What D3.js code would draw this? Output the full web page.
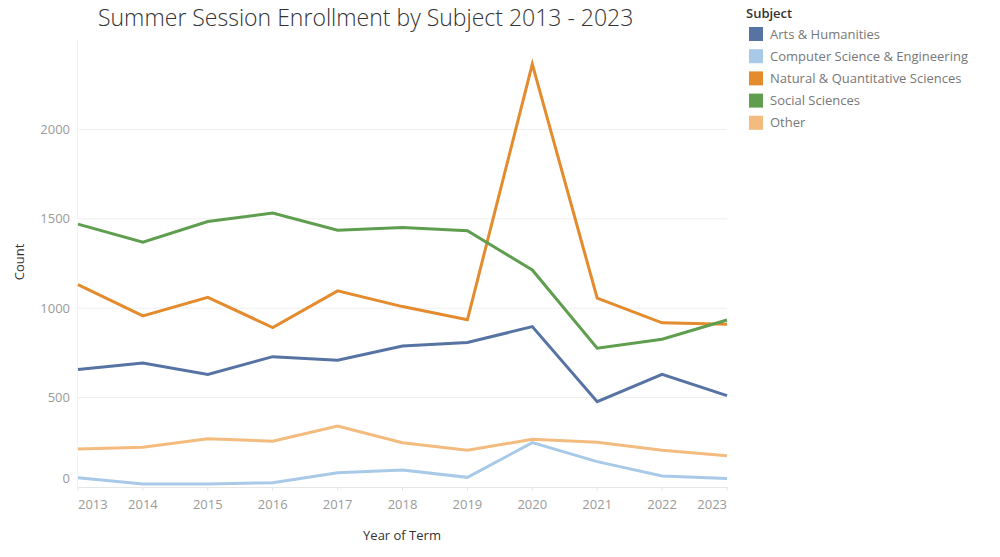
<!DOCTYPE html>
<html>
<head>
<meta charset="utf-8">
<script src="https://cdn.jsdelivr.net/npm/d3@7"></script>
<style>
  body { margin: 0; background: #fff; }
  svg { display: block; font-family: "Open Sans", "Noto Sans", sans-serif; }
</style>
</head>
<body>
<svg id="chart" width="1000" height="557"></svg>
<script>
const years = [2013, 2014, 2015, 2016, 2017, 2018, 2019, 2020, 2021, 2022, 2023];
const subjects = ["Arts & Humanities", "Computer Science & Engineering", "Natural & Quantitative Sciences", "Social Sciences", "Other"];
const artsHumanities = [657, 694, 630, 729, 709, 789, 808, 897, 477, 630, 511];
const compSciEng = [52, 17, 17, 24, 80, 95, 54, 248, 142, 62, 47];
const naturalQuant = [1132, 957, 1061, 892, 1097, 1009, 935, 2365, 1056, 918, 910];
const socialSciences = [1470, 1369, 1485, 1532, 1436, 1451, 1433, 1214, 776, 826, 934];
const other = [213, 222, 270, 256, 341, 248, 205, 267, 250, 205, 175];
const yTicks = [0, 500, 1000, 1500, 2000];
const colors = ["#5673a3", "#a8c9e8", "#e38b2d", "#5f9e4f", "#f4bb7e"];

const seriesValues = [artsHumanities, compSciEng, naturalQuant, socialSciences, other];
// draw order: light ones first
const drawOrder = [4, 1, 0, 2, 3];

const svg = d3.select("#chart");
const mLeft = 78, mRight = 727, mTop = 40, mBottom = 487;

const x = d3.scaleLinear().domain([2013, 2023]).range([mLeft, mRight]);
const y = d3.scaleLinear().domain([0, 2500]).range([mBottom, mTop]);

// gridlines
svg.append("g").selectAll("line").data(yTicks.filter(d => d > 0)).join("line")
  .attr("x1", mLeft).attr("x2", mRight)
  .attr("y1", d => y(d)).attr("y2", d => y(d))
  .attr("stroke", "#efefef").attr("stroke-width", 1);

// left pane border
svg.append("line").attr("x1", mLeft - 0.5).attr("x2", mLeft - 0.5).attr("y1", mTop).attr("y2", mBottom)
  .attr("stroke", "#f2f2f2");
// zero / baseline
svg.append("line").attr("x1", mLeft).attr("x2", mRight).attr("y1", mBottom + 0.5).attr("y2", mBottom + 0.5)
  .attr("stroke", "#e6e6e6");

// x ticks
svg.append("g").selectAll("line").data(years).join("line")
  .attr("x1", d => x(d)).attr("x2", d => x(d))
  .attr("y1", mBottom).attr("y2", mBottom + 4)
  .attr("stroke", "#e6e6e6");

// y tick labels
svg.append("g").selectAll("text").data(yTicks).join("text")
  .attr("x", 70)
  .attr("y", d => d === 0 ? y(d) - 9 : y(d))
  .attr("dy", "0.35em")
  .attr("text-anchor", "end")
  .attr("font-size", 13)
  .attr("fill", "#9a9a9a")
  .text(d => d);

// x tick labels
svg.append("g").selectAll("text").data(years).join("text")
  .attr("x", d => x(d))
  .attr("y", 504)
  .attr("dy", "0.35em")
  .attr("text-anchor", (d, i) => i === 0 ? "start" : (i === years.length - 1 ? "end" : "middle"))
  .attr("font-size", 13)
  .attr("fill", "#9a9a9a")
  .text(d => d);

// axis titles
svg.append("text")
  .attr("transform", "translate(19," + 262 + ") rotate(-90)")
  .attr("text-anchor", "middle").attr("dy", "0.35em")
  .attr("font-size", 13).attr("fill", "#333")
  .text("Count");

svg.append("text")
  .attr("x", 402).attr("y", 535).attr("dy", "0.35em")
  .attr("text-anchor", "middle")
  .attr("font-size", 13).attr("fill", "#333")
  .text("Year of Term");

// lines
const line = d3.line().x((d, i) => x(years[i])).y(d => y(d));
svg.append("g").selectAll("path").data(drawOrder).join("path")
  .attr("d", k => line(seriesValues[k]))
  .attr("fill", "none")
  .attr("stroke", k => colors[k])
  .attr("stroke-width", 3)
  .attr("stroke-linejoin", "miter")
  .attr("stroke-linecap", "butt");

// title
svg.append("text")
  .attr("x", 98).attr("y", 18).attr("dy", "0.35em")
  .attr("font-size", 23).attr("font-weight", 300)
  .attr("fill", "#333")
  .text("Summer Session Enrollment by Subject 2013 - 2023");

// legend
const lg = svg.append("g");
lg.append("text").attr("x", 746).attr("y", 13).attr("dy", "0.35em")
  .attr("font-size", 13).attr("fill", "#333").attr("font-weight", 600)
  .text("Subject");
const items = lg.selectAll("g.item").data(subjects).join("g")
  .attr("class", "item")
  .attr("transform", (d, i) => "translate(0," + (34 + i * 22.2) + ")");
items.append("rect").attr("x", 749).attr("y", -7).attr("width", 14).attr("height", 14)
  .attr("fill", (d, i) => colors[i]);
items.append("text").attr("x", 770).attr("y", 0).attr("dy", "0.35em")
  .attr("font-size", 13).attr("fill", "#777")
  .text(d => d);
</script>
</body>
</html>
